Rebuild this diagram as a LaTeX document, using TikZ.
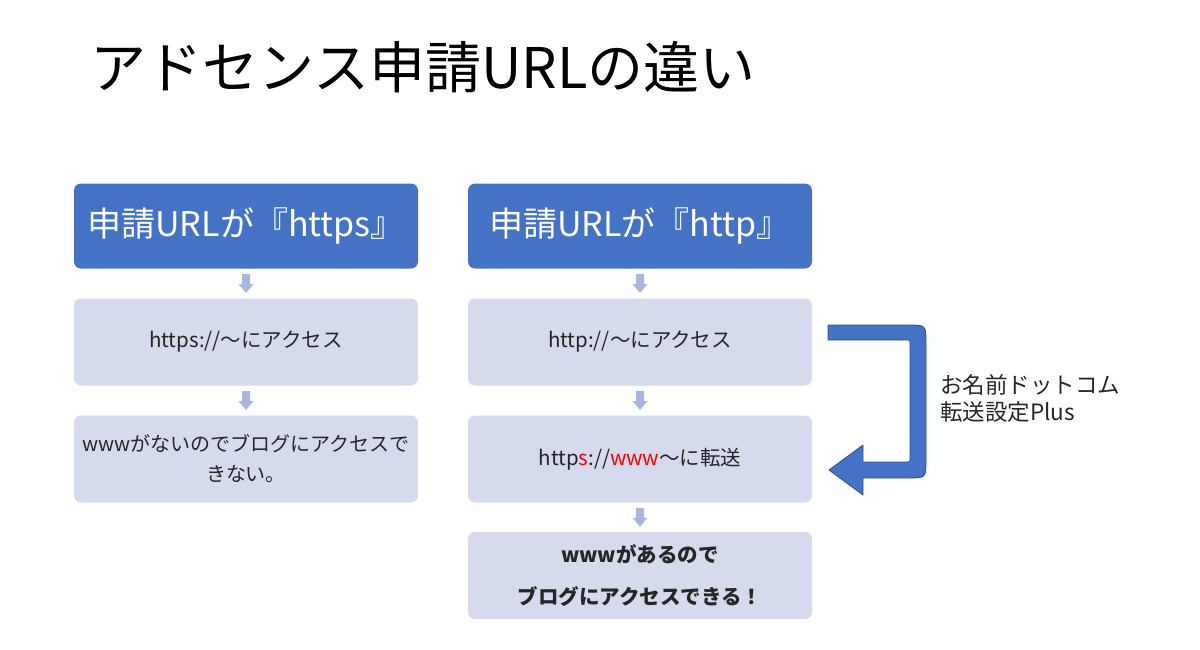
\documentclass[tikz,border=0pt]{standalone}
\usepackage{fontspec}
\setmainfont{Noto Sans CJK JP}
\usetikzlibrary{calc}
\definecolor{hdrblue}{HTML}{4472C4}
\definecolor{boxfill}{HTML}{D5DAEC}
\definecolor{arrfill}{HTML}{A9B6DE}
\definecolor{txtdark}{HTML}{262626}
\definecolor{bigedge}{HTML}{2F528F}
\definecolor{redtxt}{HTML}{FF0000}
\tikzset{
  hdrbox/.style={rectangle, rounded corners=7pt, fill=hdrblue, minimum width=344pt, minimum height=85pt, inner sep=0pt, text=white, font=\fontsize{34}{40}\selectfont},
  bodybox/.style={rectangle, rounded corners=7pt, fill=boxfill, minimum width=344pt, minimum height=87pt, inner sep=0pt, text=txtdark, align=center, font=\fontsize{20.5}{30}\selectfont},
  smallarr/.style={fill=arrfill},
  bigarr/.style={fill=hdrblue, draw=bigedge, line width=0.8pt, line join=round},
  plain/.style={inner sep=0pt, text=txtdark},
}
\newcommand{\downarr}[1]{%
  \fill[smallarr] ($(#1)+(-4,-9.5)$) -- ++(8,0) -- ++(0,10) -- ++(3.5,0) -- ($(#1)+(0,9.5)$) -- ($(#1)+(-7.5,0.5)$) -- ++(3.5,0) -- cycle;}
\begin{document}
\begin{tikzpicture}[x=1pt,y=-1pt]
\useasboundingbox (0,0) rectangle (1200,649);
% title
\node[plain, anchor=base west, text=black, font=\fontsize{56}{60}\selectfont] (title) at (90,88) {アドセンス申請URLの違い};
% left column
\node[hdrbox] (lh) at (246,226) {申請URLが『https』};
\node[bodybox] (l2) at (246,342) {https://～にアクセス};
\node[bodybox, font=\fontsize{20}{30}\selectfont] (l3) at (246,459) {wwwがないのでブログにアクセスで\\きない。};
% right column
\node[hdrbox] (rh) at (640,226) {申請URLが『http』};
\node[bodybox] (r2) at (640,342) {http://～にアクセス};
\node[bodybox] (r3) at (640,459) {http\textcolor{redtxt}{s}://\textcolor{redtxt}{www}～に転送};
\node[bodybox, font=\fontsize{20.5}{42}\selectfont\bfseries] (r4) at (640,575.5) {wwwがあるので\\ブログにアクセスできる！};
% small arrows
\coordinate (a1) at ($(lh.south)!0.5!(l2.north)$);
\coordinate (a2) at ($(l2.south)!0.5!(l3.north)$);
\coordinate (a3) at ($(rh.south)!0.5!(r2.north)$);
\coordinate (a4) at ($(r2.south)!0.5!(r3.north)$);
\coordinate (a5) at ($(r3.south)!0.5!(r4.north)$);
\downarr{a1}\downarr{a2}\downarr{a3}\downarr{a4}\downarr{a5}
% big bent arrow
\draw[bigarr] (828,325) -- (908,325) .. controls (926,325) .. (926,343) -- (926,460)
  .. controls (926,478) .. (908,478) -- (863,478) -- (863,495) -- (829,470) -- (863,445) -- (863,462)
  -- (906,462) .. controls (910,462) .. (910,458) -- (910,344) .. controls (910,340) .. (906,340) -- (828,340) -- cycle;
% label
\node[plain, anchor=base west, align=left, font=\fontsize{22.5}{27}\selectfont] (lbl) at (940,420) {お名前ドットコム\\転送設定Plus};
\end{tikzpicture}
\end{document}
